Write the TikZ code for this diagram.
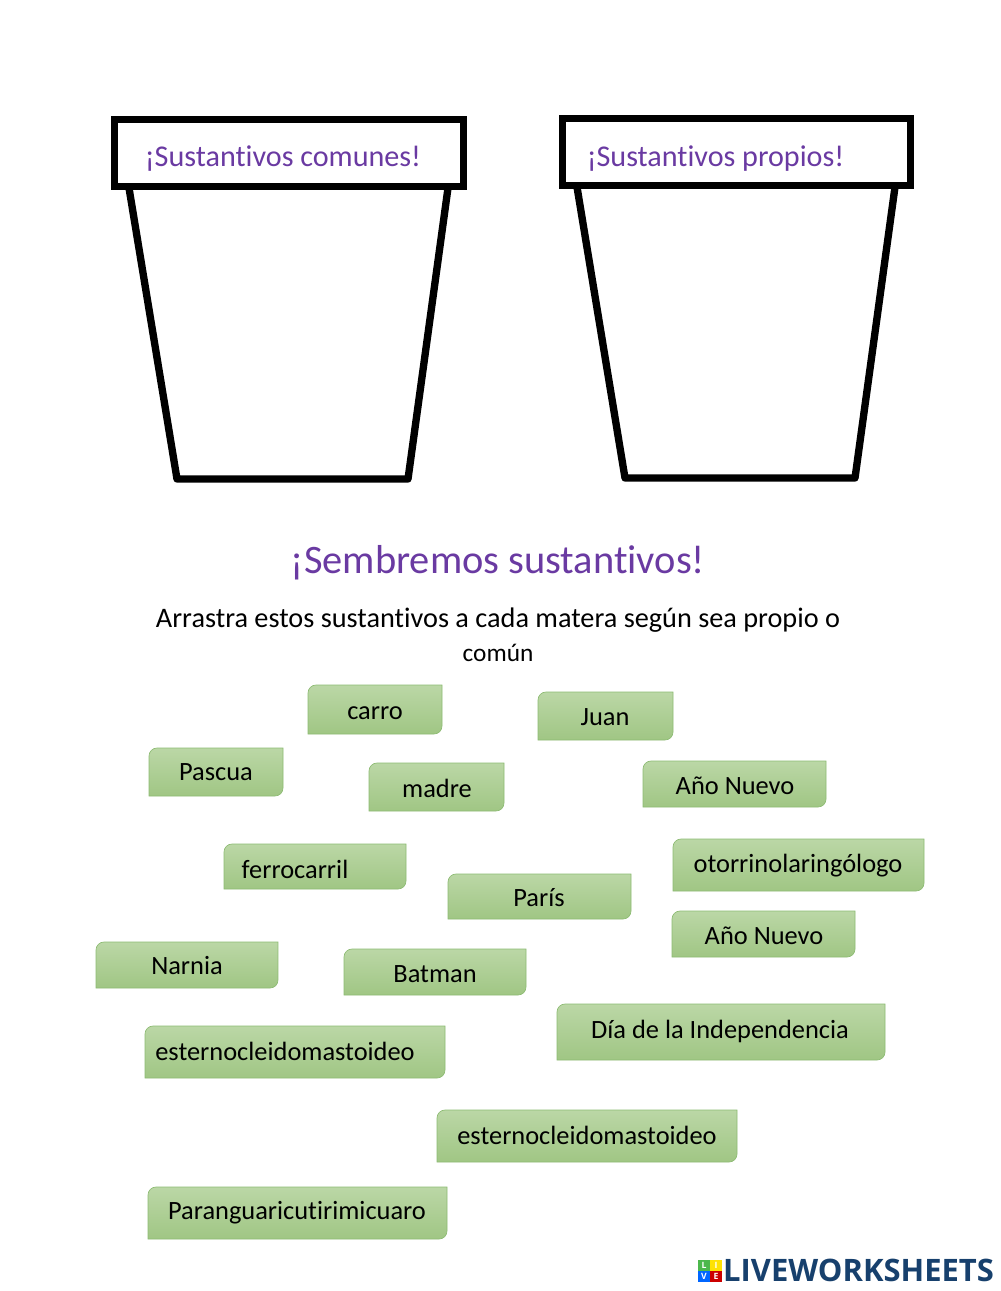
\documentclass[tikz,border=0pt]{standalone}
\usepackage{fontspec}
\setmainfont[RawFeature={-liga}]{Carlito}
\newfontfamily\logofont{Open Sans}
\definecolor{potpurple}{HTML}{6A3AA2}
\definecolor{boxtop}{HTML}{BBD7A6}
\definecolor{boxbottom}{HTML}{A0C684}
\definecolor{boxedge}{HTML}{8DBB73}
\definecolor{logoblue}{HTML}{17406D}
\tikzset{
  potline/.style={draw=black,line width=5.5pt,line join=round},
  rimbox/.style={draw=black,line width=5.5pt,line join=miter,fill=white},
  potlabel/.style={text=potpurple,font=\fontsize{22.6}{26}\selectfont,inner sep=0pt},
  wordbox/.style={draw=boxedge,line width=0.5pt,top color=boxtop,bottom color=boxbottom},
  wordlabel/.style={text=black,font=\fontsize{19.8}{23}\selectfont,inner sep=0pt},
  logotile/.style={minimum size=8.5pt,inner sep=0pt,text=white,font=\logofont\bfseries\fontsize{6.5}{6.5}\selectfont},
}
\newcommand{\wordshape}[4]{\path[wordbox] (#1,#4) [rounded corners=6] -- (#1,#2) [sharp corners] -- (#3,#2) [rounded corners=6] -- (#3,#4) [sharp corners] -- cycle;}
\begin{document}
\begin{tikzpicture}[x=0.75pt,y=-0.75pt]
  \useasboundingbox (0,0) rectangle (1000,1291);
  \fill[white] (0,0) rectangle (1000,1291);

  % left pot
  \draw[potline] (129,188) -- (177,479) -- (408,479) -- (448,188);
  \draw[rimbox] (114.5,119.5) rectangle (463.5,186.5);
  \node[potlabel] (comunes) at (283,159) {¡Sustantivos comunes!};

  % right pot
  \draw[potline] (577,187) -- (625,478) -- (855,478) -- (895,187);
  \draw[rimbox] (562.5,118.5) rectangle (910.5,185.5);
  \node[potlabel] (propios) at (715.5,159) {¡Sustantivos propios!};

  \node[text=potpurple,font=\fontsize{30.3}{36}\selectfont,inner sep=0pt] (title) at (498,563) {¡Sembremos sustantivos!};
  \node[text=black,font=\fontsize{21.2}{24}\selectfont,inner sep=0pt] (line1) at (498,620) {Arrastra estos sustantivos a cada matera según sea propio o};
  \node[text=black,font=\fontsize{19}{24}\selectfont,inner sep=0pt] (line2) at (498,653) {común};

  % word boxes
  \wordshape{308}{685}{442}{734}
  \node[wordlabel] (carro) at (375,713) {carro};
  \wordshape{538}{692}{673}{740}
  \node[wordlabel] (juan) at (605,717) {Juan};
  \wordshape{149}{748}{283}{796}
  \node[wordlabel] (pascua) at (216,772) {Pascua};
  \wordshape{369}{763}{504}{811}
  \node[wordlabel] (madre) at (437,788) {madre};
  \wordshape{643}{761}{826}{807}
  \node[wordlabel] (nuevoA) at (735,786) {Año Nuevo};
  \wordshape{224}{844}{406}{889}
  \node[wordlabel] (ferrocarril) at (295,869) {ferrocarril};
  \wordshape{673}{839}{924}{891}
  \node[wordlabel] (otorrino) at (798,866) {otorrinolaringólogo};
  \wordshape{448}{874}{631}{919}
  \node[wordlabel] (paris) at (539,898) {París};
  \wordshape{672}{911}{855}{957}
  \node[wordlabel] (nuevoB) at (764,936) {Año Nuevo};
  \wordshape{96}{942}{278}{988}
  \node[wordlabel] (narnia) at (187,966) {Narnia};
  \wordshape{344}{949}{526}{995}
  \node[wordlabel] (batman) at (435,974) {Batman};
  \wordshape{557}{1004}{885}{1060}
  \node[wordlabel] (dia) at (720,1031) {Día de la Independencia};
  \wordshape{145}{1026}{445}{1078}
  \node[wordlabel] (esternoA) at (285,1051) {esternocleidomastoideo};
  \wordshape{437}{1110}{737}{1162}
  \node[wordlabel] (esternoB) at (587,1135) {esternocleidomastoideo};
  \wordshape{148}{1187}{447}{1239}
  \node[wordlabel] (paran) at (297,1213) {Paranguaricutirimicuaro};

  % logo
  \node[logotile,fill=green!60!black!70] (tileL) at (704,1265.5) {L};
  \node[logotile,fill=yellow!85!orange] (tileI) at (716,1265.5) {I};
  \node[logotile,fill=blue!60!cyan] (tileV) at (704,1276.5) {V};
  \node[logotile,fill=red!80!black] (tileE) at (716,1276.5) {E};
  \node[text=logoblue,font=\logofont\bfseries\fontsize{23.2}{26}\selectfont,inner sep=0pt] (logo) at (858.5,1270) {LIVEWORKSHEETS};
\end{tikzpicture}
\end{document}
